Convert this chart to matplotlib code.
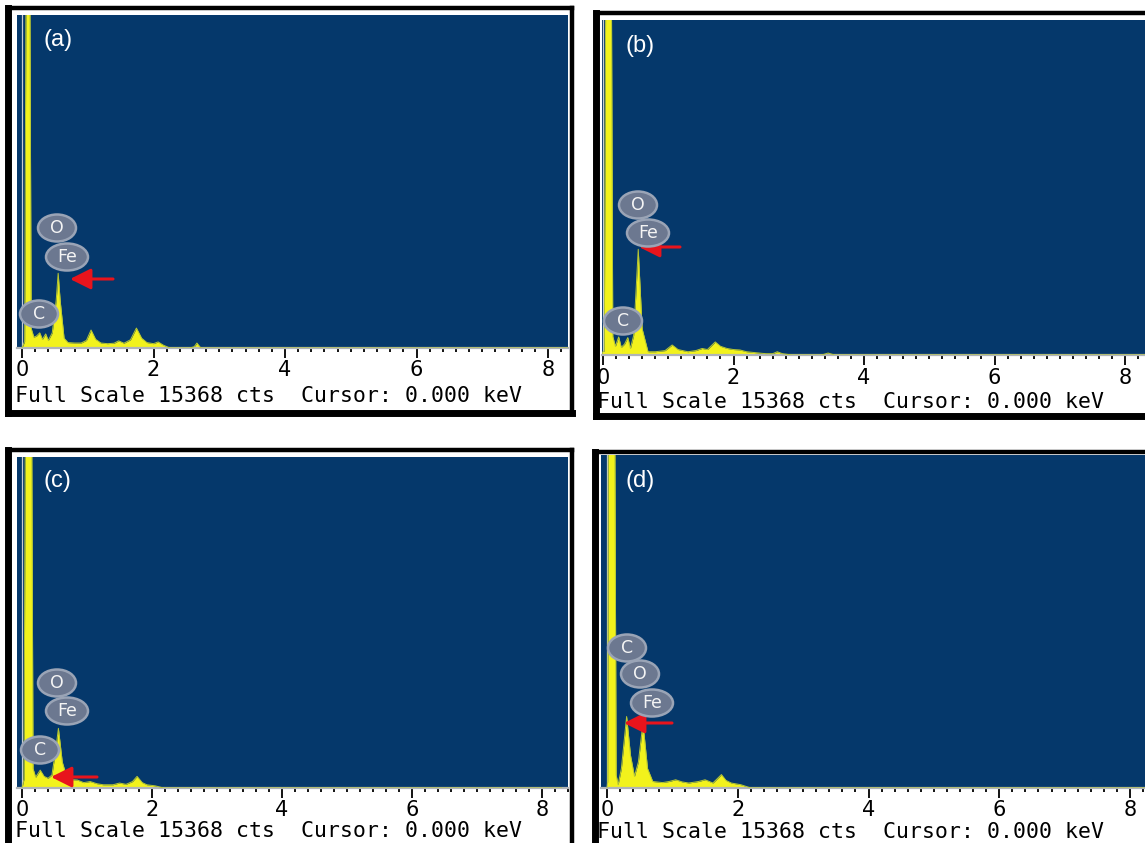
"""EDS spectra of the four samples, (a)-(d), redrawn as a 2x2 panel figure."""

import matplotlib
matplotlib.use('Agg')
import matplotlib.pyplot as plt
from matplotlib.patches import Ellipse
from matplotlib.transforms import IdentityTransform
from matplotlib.ticker import MultipleLocator

W, H = 1145, 843
FULL_SCALE = 15368

# ---- spectra (energy in keV, counts) ----
a_energy = [0.00, 0.04, 0.06, 0.12, 0.14, 0.18, 0.22, 0.27, 0.31, 0.36, 0.40,
            0.46, 0.52, 0.55, 0.58, 0.64, 0.70, 0.80, 0.90, 0.98, 1.05, 1.12,
            1.20, 1.30, 1.40, 1.47, 1.55, 1.65, 1.74, 1.82, 1.90, 2.00, 2.07,
            2.15, 2.25, 2.55, 2.62, 2.66, 2.72, 8.30]
a_counts = [0, 300, 16000, 16000, 900, 500, 550, 700, 400, 650, 350,
            700, 2200, 3450, 2200, 450, 250, 230, 230, 350, 830, 400,
            230, 200, 220, 330, 220, 380, 920, 450, 250, 200, 280,
            130, 0, 0, 60, 230, 0, 0]

b_energy = [-0.05, 0.02, 0.04, 0.13, 0.15, 0.19, 0.24, 0.28, 0.33, 0.38, 0.42,
            0.47, 0.54, 0.60, 0.69, 0.80, 0.95, 1.06, 1.15, 1.30, 1.42, 1.52,
            1.60, 1.72, 1.80, 1.90, 2.00, 2.10, 2.20, 2.36, 2.50, 2.60, 2.67,
            2.75, 2.90, 3.35, 3.45, 3.55, 8.40]
b_counts = [0, 200, 16000, 16000, 850, 400, 830, 350, 500, 800, 300,
            900, 4850, 1200, 150, 150, 200, 460, 250, 150, 200, 300,
            250, 600, 400, 300, 250, 230, 150, 100, 60, 60, 150,
            60, 0, 0, 90, 0, 0]

c_energy = [0.00, 0.03, 0.05, 0.15, 0.17, 0.21, 0.28, 0.34, 0.40, 0.46, 0.52,
            0.56, 0.62, 0.70, 0.85, 0.95, 1.05, 1.15, 1.25, 1.40, 1.50, 1.60,
            1.70, 1.77, 1.85, 1.92, 2.05, 2.18, 8.30]
c_counts = [0, 400, 16000, 16000, 900, 500, 830, 540, 450, 600, 1800,
            2770, 1200, 400, 370, 250, 300, 200, 150, 150, 230, 170,
            300, 540, 250, 150, 100, 0, 0]

d_energy = [0.00, 0.01, 0.02, 0.12, 0.14, 0.17, 0.22, 0.30, 0.36, 0.42, 0.48,
            0.55, 0.62, 0.70, 0.85, 0.95, 1.05, 1.15, 1.25, 1.40, 1.50, 1.62,
            1.75, 1.82, 1.90, 2.05, 2.20, 8.30]
d_counts = [0, 300, 16000, 16000, 600, 150, 900, 3300, 1500, 540, 1200,
            3000, 900, 300, 250, 300, 380, 280, 230, 300, 380, 230,
            620, 350, 230, 150, 0, 0]

panel_tags = ['(a)', '(b)', '(c)', '(d)']
spectra = [(a_energy, a_counts), (b_energy, b_counts),
           (c_energy, c_counts), (d_energy, d_counts)]
footer = 'Full Scale 15368 cts  Cursor: 0.000 keV'
tick_values = [0, 2, 4, 6, 8]

# ---- layout in picture pixels (x0, y0, x1, y1), y measured from the top ----
layout = [
    dict(frame=(8, 8, 572, 413), plot=(17, 15, 568, 348), zero=22, eight=548,
         foot=(15, 396), tag=(58, 40),
         elems=[('O', 57, 228), ('Fe', 67, 257), ('C', 39, 314)],
         arrow=((113, 279), (70, 279))),
    dict(frame=(596, 13, 1160, 416), plot=(602, 20, 1160, 355), zero=603, eight=1125,
         foot=(597, 402), tag=(640, 46),
         elems=[('O', 638, 205), ('Fe', 648, 233), ('C', 623, 321)],
         arrow=((680, 247), (639, 247))),
    dict(frame=(8, 450, 572, 852), plot=(17, 457, 568, 788), zero=22, eight=542,
         foot=(15, 831), tag=(57, 481),
         elems=[('O', 57, 683), ('Fe', 67, 711), ('C', 40, 750)],
         arrow=((97, 777), (51, 777))),
    dict(frame=(595, 452, 1160, 852), plot=(601, 455, 1160, 788), zero=607, eight=1130,
         foot=(597, 832), tag=(640, 481),
         elems=[('C', 627, 648), ('O', 640, 674), ('Fe', 652, 703)],
         arrow=((672, 723), (624, 723))),
]

BLUE = '#05386b'
YELLOW = '#f2f21c'


def rect(x0, y0, x1, y1):
    return [x0 / W, 1 - y1 / H, (x1 - x0) / W, (y1 - y0) / H]


fig = plt.figure(figsize=(W / 100, H / 100), dpi=100)
fig.patch.set_facecolor('white')

for tag, (energy, counts), lay in zip(panel_tags, spectra, layout):
    # black outer frame, white strip under the spectrum
    fax = fig.add_axes(rect(*lay['frame']))
    fax.set_facecolor('white')
    fax.set_xticks([])
    fax.set_yticks([])
    for side, lw in [('left', 5), ('bottom', 5), ('top', 3.2), ('right', 3.2)]:
        fax.spines[side].set_linewidth(lw)
        fax.spines[side].set_color('black')

    ax = fig.add_axes(rect(*lay['plot']))
    ax.set_facecolor(BLUE)
    scale = (lay['eight'] - lay['zero']) / 8.0
    ax.set_xlim((lay['plot'][0] - lay['zero']) / scale,
                (lay['plot'][2] - lay['zero']) / scale)
    ax.set_ylim(0, FULL_SCALE)

    ax.axvline(0, color='#c8ccd0', lw=0.9, zorder=1)
    ax.fill_between(energy, counts, 0, color=YELLOW, lw=0, zorder=2)
    ax.plot(energy, counts, color='#b8c832', lw=0.7, zorder=3)

    for side in ['left', 'top', 'right']:
        ax.spines[side].set_visible(False)
    ax.spines['bottom'].set_color('#b0b4b8')
    ax.spines['bottom'].set_linewidth(1.6)
    ax.set_yticks([])
    ax.set_xticks(tick_values)
    ax.set_xticklabels([str(t) for t in tick_values])
    ax.xaxis.set_minor_locator(MultipleLocator(0.2))
    ax.tick_params(axis='x', which='major', length=7, width=1.3, color='black',
                   labelsize=15, pad=2)
    ax.tick_params(axis='x', which='minor', length=3, width=1.3, color='black')

    fig.text(lay['tag'][0] / W, 1 - lay['tag'][1] / H, tag, color='white',
             fontsize=17, ha='center', va='center', family='Liberation Sans')

    # grey element badges
    for name, px, py in lay['elems']:
        width = 42 if len(name) > 1 else 38
        fig.add_artist(Ellipse((px, H - py), width, 27, transform=IdentityTransform(),
                               fc='#6c7890', ec='#9aa4b6', lw=1.8, zorder=5))
        fig.text(px / W, 1 - py / H, name, color='#f4f4f4', fontsize=12.5,
                 ha='center', va='center', zorder=6)

    (tx, ty), (hx, hy) = lay['arrow']
    fig.add_artist(plt.Annotation('', xy=(hx, H - hy), xytext=(tx, H - ty),
                                  xycoords='figure pixels', textcoords='figure pixels',
                                  arrowprops=dict(arrowstyle='-|>,head_width=0.35,head_length=0.7',
                                                  color='#e8141c', lw=2.2,
                                                  mutation_scale=18,
                                                  shrinkA=0, shrinkB=0)))

    fig.text(lay['foot'][0] / W, 1 - lay['foot'][1] / H, footer, color='black',
             fontsize=15.5, ha='left', va='center', family='DejaVu Sans Mono')

plt.savefig('out.png', dpi=100)
plt.close()
